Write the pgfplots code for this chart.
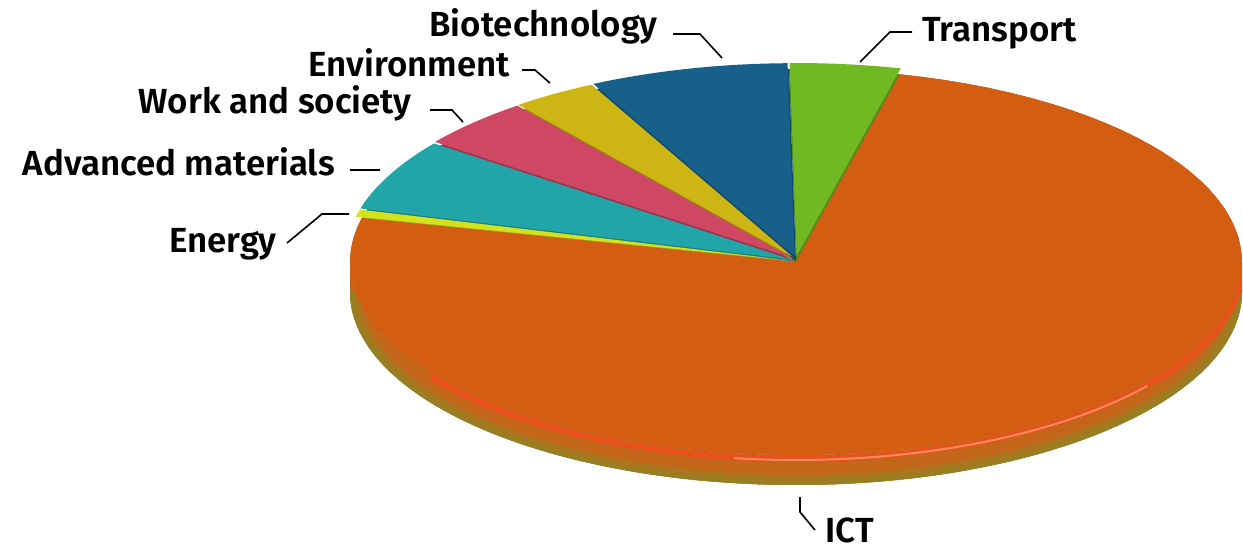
\documentclass[border=0pt]{standalone}
\usepackage{fontspec}
\setmainfont{Fira Sans}[BoldFont={Fira Sans SemiBold}]
\usepackage{pgfplots}
\usepackage{pgfplotstable}
\pgfplotsset{compat=1.18}
\definecolor{cTr}{HTML}{70B922}
\definecolor{cBi}{HTML}{16608A}
\definecolor{cEn}{HTML}{CDB614}
\definecolor{cWo}{HTML}{CE4864}
\definecolor{cAd}{HTML}{22A5A8}
\definecolor{cEg}{HTML}{D3E21C}
\definecolor{cIC}{HTML}{D35D11}
\definecolor{sideBase}{HTML}{C4661A}
\definecolor{sideOlive}{HTML}{A27C1E}
\definecolor{sideDark}{HTML}{977F24}
\definecolor{sideRed}{HTML}{E9501A}
\definecolor{sideHi}{HTML}{FF9A70}

% shares in percent, counter-clockwise from the start angle
\pgfplotstableread{
name value col explode
Transport 4.0 cTr 6
Biotechnology 7.2 cBi 6
Environment 3.1 cEn 6
Work 4.2 cWo 6
Advanced 6.0 cAd 6
Energy 0.6 cEg 6
ICT 74.9 cIC 0
}\piedata

\def\cx{796}
\def\cy{262}
\def\rx{446}
\def\ry{193}
\def\dep{30}
\def\startang{76.5}

\begin{document}
\begin{tikzpicture}
\begin{axis}[width=1243bp,height=549bp,scale only axis,
  xmin=0,xmax=1243,ymin=0,ymax=549,y dir=reverse,hide axis,clip=false]
\pgfplotsextra{
  \path (axis cs:0,0) rectangle (axis cs:1243,549);
  % side of the pie (front half, all ICT)
  \def\sidepath{plot[domain=180:360,samples=120,variable=\t] (axis cs:{\cx+\rx*cos(\t)},{\cy-\ry*sin(\t)}) -- plot[domain=360:180,samples=120,variable=\t] (axis cs:{\cx+\rx*cos(\t)},{\cy+\dep-\ry*sin(\t)}) -- cycle}
  \fill[sideBase] \sidepath;
  \begin{scope}
    \clip \sidepath;
    \draw[sideOlive,line width=20bp,opacity=0.8] plot[domain=180:360,samples=120,variable=\t] (axis cs:{\cx+\rx*cos(\t)},{\cy+\dep-\ry*sin(\t)});
    \draw[sideDark,line width=8bp] plot[domain=180:360,samples=120,variable=\t] (axis cs:{\cx+\rx*cos(\t)},{\cy+\dep-\ry*sin(\t)});
    \draw[sideRed,line width=6bp] plot[domain=215:360,samples=120,variable=\t] (axis cs:{\cx+\rx*cos(\t)},{\cy+4-\ry*sin(\t)});
    \draw[sideHi,line width=2bp,opacity=0.8] plot[domain=262:322,samples=60,variable=\t] (axis cs:{\cx+\rx*cos(\t)},{\cy+5-\ry*sin(\t)});
  \end{scope}
  % slice walls (unexploded, darker) then top surfaces (exploded)
  \xdef\angacc{\startang}
  \foreach \i in {0,...,6}{
    \pgfplotstablegetelem{\i}{value}\of\piedata \let\v\pgfplotsretval
    \pgfplotstablegetelem{\i}{col}\of\piedata \let\c\pgfplotsretval
    \pgfmathsetmacro\a{\angacc}
    \pgfmathsetmacro\b{\angacc+3.6*\v}
    \fill[fill=\c!75!black] (axis cs:\cx,\cy) -- plot[domain=\a:\b,samples=90,variable=\t] (axis cs:{\cx+\rx*cos(\t)},{\cy-\ry*sin(\t)}) -- cycle;
    \xdef\angacc{\b}
  }
  \xdef\angacc{\startang}
  \foreach \i in {0,...,6}{
    \pgfplotstablegetelem{\i}{value}\of\piedata \let\v\pgfplotsretval
    \pgfplotstablegetelem{\i}{col}\of\piedata \let\c\pgfplotsretval
    \pgfplotstablegetelem{\i}{explode}\of\piedata \let\e\pgfplotsretval
    \pgfmathsetmacro\a{\angacc}
    \pgfmathsetmacro\b{\angacc+3.6*\v}
    \pgfmathsetmacro\m{(\a+\b)/2}
    \pgfmathsetmacro\ox{\cx+\e*cos(\m)}
    \pgfmathsetmacro\oy{\cy-\e*sin(\m)}
    \fill[fill=\c] (axis cs:\ox,\oy) -- plot[domain=\a:\b,samples=90,variable=\t] (axis cs:{\ox+\rx*cos(\t)},{\oy-\ry*sin(\t)}) -- cycle;
    \xdef\angacc{\b}
  }
  % labels and leader lines
  \begin{scope}[every node/.style={font=\fontsize{35}{38}\selectfont\bfseries,inner sep=0pt}]
    \node[anchor=base east] at (axis cs:658,37) {Biotechnology};
    \node[anchor=base east] at (axis cs:510,77) {Environment};
    \node[anchor=base east] at (axis cs:412,113) {Work and society};
    \node[anchor=base east] at (axis cs:335,175) {Advanced materials};
    \node[anchor=base east] at (axis cs:277,252) {Energy};
    \node[anchor=base west] at (axis cs:922,42) {Transport};
    \node[anchor=base west] at (axis cs:825,542) {ICT};
  \end{scope}
  \begin{scope}[line width=1.6bp,black]
    \draw (axis cs:673,34) -- (axis cs:700,34) -- (axis cs:722,58);
    \draw (axis cs:522,70) -- (axis cs:535,70) -- (axis cs:550,83);
    \draw (axis cs:430,110) -- (axis cs:452,110) -- (axis cs:463,122);
    \draw (axis cs:350,170) -- (axis cs:380,170);
    \draw (axis cs:287,243) -- (axis cs:322,214) -- (axis cs:349,214);
    \draw (axis cs:912,32) -- (axis cs:890,32) -- (axis cs:860,62);
    \draw (axis cs:800,497) -- (axis cs:800,512) -- (axis cs:815,530);
  \end{scope}
}
\end{axis}
\end{tikzpicture}
\end{document}
